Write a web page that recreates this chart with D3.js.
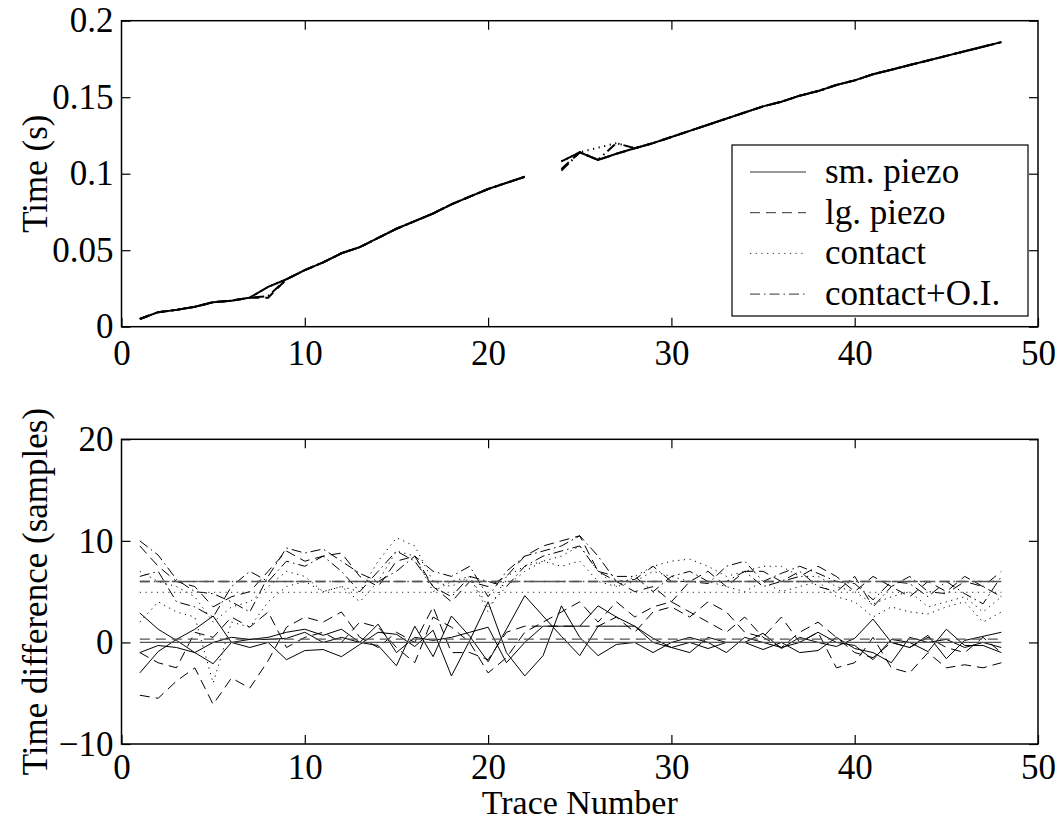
<!DOCTYPE html>
<html lang="en">
<head>
<meta charset="utf-8">
<title>Trace picks</title>
<script src="https://cdn.jsdelivr.net/npm/d3@7"></script>
<style>
  body { margin: 0; background: #fff; }
  svg { font-family: "Liberation Serif", "Times New Roman", serif; }
  text { font-family: "Liberation Serif", "Times New Roman", serif; fill: #000; }
  .axis text { font-size: 35px; font-family: "Liberation Serif", "Times New Roman", serif; }
  .axis line { stroke: #000; stroke-width: 1.2px; }
</style>
</head>
<body>
<script>
// trace numbers 1..48
var traces = [1,2,3,4,5,6,7,8,9,10,11,12,13,14,15,16,17,18,19,20,21,22,23,24,
              25,26,27,28,29,30,31,32,33,34,35,36,37,38,39,40,41,42,43,44,45,46,47,48];

// top panel: pick time (s), trace 23 missing
var topSmPiezo = [0.005,0.0095,0.011,0.013,0.016,0.017,0.019,0.026,0.031,0.037,0.042,0.048,0.052,0.058,0.064,0.069,
  0.074,0.080,0.085,0.090,0.094,0.098,null,0.108,0.114,0.109,0.113,0.1166,0.120,0.124,0.128,0.132,
  0.136,0.140,0.144,0.147,0.151,0.154,0.158,0.161,0.165,0.168,0.171,0.174,0.177,0.180,0.183,0.186];
var topLgPiezo = [0.005,0.0095,0.011,0.013,0.016,0.017,0.019,0.019,0.031,0.037,0.042,0.048,0.052,0.058,0.064,0.069,
  0.074,0.080,0.085,0.090,0.094,0.098,null,0.103,0.114,0.109,0.113,0.1166,0.120,0.124,0.128,0.132,
  0.136,0.140,0.144,0.147,0.151,0.154,0.158,0.161,0.165,0.168,0.171,0.174,0.177,0.180,0.183,0.186];
var topContact = [0.005,0.0095,0.011,0.013,0.016,0.017,0.019,0.026,0.031,0.037,0.042,0.048,0.052,0.058,0.064,0.069,
  0.074,0.080,0.085,0.090,0.094,0.098,null,0.108,0.114,0.117,0.120,0.1166,0.120,0.124,0.128,0.132,
  0.136,0.140,0.144,0.147,0.151,0.154,0.158,0.161,0.165,0.168,0.171,0.174,0.177,0.180,0.183,0.186];
var topContactOI = [0.005,0.0095,0.011,0.013,0.016,0.017,0.019,0.020,0.031,0.037,0.042,0.048,0.052,0.058,0.064,0.069,
  0.074,0.080,0.085,0.090,0.094,0.098,null,0.102,0.114,0.109,0.120,0.1166,0.120,0.124,0.128,0.132,
  0.136,0.140,0.144,0.147,0.151,0.154,0.158,0.161,0.165,0.168,0.171,0.174,0.177,0.180,0.183,0.186];

// bottom panel: time differences (samples)
var diffSolid = [
  [2.9,1.3,0.2,-1.0,-2.1,0.0,0.3,0.5,1.0,1.3,0.7,1.3,0.0,-0.3,-2.3,1.6,-1.4,2.6,0.6,-1.9,1.3,4.6,2.6,0.6,
   -1.3,1.6,1.6,1.6,0.0,-0.5,0.0,-0.6,0.0,0.0,0.9,-0.6,0.5,0.0,-0.4,0.4,2.3,0.0,-0.5,0.7,-1.6,0.2,0.6,1.0],
  [-3.0,-0.9,0.3,1.3,2.6,0.0,-0.5,0.0,-1.7,-0.8,-0.7,-1.4,-0.2,1.0,0.8,-0.4,1.2,-3.3,0.2,4.0,-1.0,-3.3,-1.3,3.6,
   0.5,-1.3,-0.2,0.0,-1.0,0.0,0.5,0.0,-1.0,0.5,0.0,-0.5,0.0,1.0,0.0,-0.3,-1.7,0.3,0.0,-0.9,1.3,-0.3,-0.3,-1.0],
  [-1.0,-0.3,-0.5,-1.0,0.0,0.5,0.3,0.3,0.4,1.0,0.0,0.5,0.0,1.8,-1.0,0.5,0.2,0.5,1.0,1.5,-2.0,0.0,1.6,1.6,
   1.6,3.6,2.5,1.6,0.4,-0.5,-1.0,0.5,0.0,0.0,-0.7,0.0,-1.0,-0.8,0.5,-0.6,-1.0,-2.0,0.5,0.0,0.3,-0.5,0.0,-0.5]
];
var diffDashed = [
  [9.5,7.5,6.0,5.5,3.5,4.5,5.0,7.0,9.0,8.0,8.5,8.8,6.5,5.5,8.0,8.5,5.5,4.0,6.0,5.5,6.5,8.5,9.5,10.0,
   10.5,7.0,6.0,5.0,5.5,4.0,6.0,7.0,5.5,7.0,7.0,6.0,6.5,7.5,6.5,5.0,6.5,5.5,4.5,6.0,5.0,6.5,5.5,7.0],
  [-5.2,-5.5,-3.8,-2.5,-6.1,-3.5,-4.5,-1.8,1.5,2.5,2.0,3.0,0.5,-0.5,1.0,0.0,3.5,-1.0,-1.0,-1.7,1.0,1.6,1.6,1.6,
   1.6,1.6,2.5,1.0,3.0,3.5,2.5,4.0,3.0,1.0,0.5,2.5,0.0,1.0,-2.5,-2.0,0.5,-2.5,-3.0,-1.0,-2.5,-2.2,-2.5,-2.0],
  [-1.0,-2.0,-2.5,1.0,0.5,2.5,1.5,3.0,-0.5,0.5,1.0,0.0,2.0,1.5,-0.5,-2.0,2.5,1.5,0.0,-3.0,-1.5,1.0,2.0,3.0,
   4.0,2.0,4.0,2.5,3.5,4.0,3.0,2.0,1.0,2.5,0.5,-0.5,1.0,2.0,0.5,-1.0,-1.5,0.0,-0.5,0.5,-0.5,-1.0,0.5,-1.0]
];
var diffDotted = [
  [7.0,6.0,5.5,4.5,2.0,3.5,4.0,5.5,7.0,6.5,5.0,5.5,5.0,8.0,10.3,9.5,6.0,5.5,6.5,3.0,6.5,7.5,8.0,7.5,
   8.0,6.0,5.5,6.5,7.5,8.0,8.2,7.5,6.5,7.0,7.5,7.5,6.5,6.5,5.5,5.0,3.8,4.5,5.0,3.5,4.0,4.5,3.0,4.5],
  [2.0,4.0,3.0,2.5,-4.0,2.0,1.5,4.0,5.5,6.0,5.0,5.5,4.0,6.0,9.0,8.5,5.0,6.0,6.5,3.5,5.5,7.0,8.0,8.5,
   9.5,7.0,5.5,6.0,7.0,6.5,6.0,6.0,5.5,5.0,6.0,5.0,5.5,6.0,4.5,4.0,2.5,3.5,3.0,2.8,3.5,4.0,2.0,3.0]
];
var diffDashDot = [
  [10.0,8.6,6.2,5.0,4.8,4.0,3.0,6.5,9.3,8.8,9.2,8.0,6.8,6.0,7.0,8.5,7.0,6.5,7.5,4.5,7.0,8.5,9.0,9.5,
   10.5,8.5,6.0,6.2,7.5,6.0,6.0,5.8,7.5,8.0,6.0,6.8,7.5,6.8,6.0,5.8,4.2,6.0,5.8,4.5,6.0,4.8,3.8,6.5],
  [6.5,7.0,4.0,3.5,2.5,5.5,7.0,6.0,8.0,7.5,8.5,7.0,5.0,7.0,9.0,8.0,5.5,4.5,6.5,6.0,5.5,7.5,8.5,9.0,
   9.5,7.0,6.5,6.5,5.0,6.5,7.0,6.0,6.0,7.0,5.5,6.0,7.0,5.5,5.0,6.5,3.5,5.5,6.5,5.0,4.8,6.0,5.5,4.5]
];
// mean levels drawn as horizontal lines
var meanStyles = ["solid", "dashed", "dashed", "dotted", "dashdot"];
var meanLevels = [0, 0.33, 6.0, 4.93, 6.0];

var legendNames = ["sm. piezo", "lg. piezo", "contact", "contact+O.I."];
var legendStyles = ["solid", "dashed", "dotted", "dashdot"];

var dashes = { solid: null, dashed: "10,6", dotted: "1.2,4.5", dashdot: "10,4,1.5,4" };

var w = 1063, h = 823;
var left = 121.5, right = 1038;

var svg = d3.select("body").append("svg")
  .attr("width", w)
  .attr("height", h);

var xScale = d3.scaleLinear().domain([0, 50]).range([left, right]);
var yTop = d3.scaleLinear().domain([0, 0.2]).range([326.7, 20.7]);
var yBot = d3.scaleLinear().domain([-10, 20]).range([744, 439.3]);

function drawAxes(yScale, yTicks, fmt, xPad) {
  var y0 = yScale.range()[0], y1 = yScale.range()[1];
  var xAxis = d3.axisBottom(xScale).tickValues([0,10,20,30,40,50]).tickSize(-9).tickSizeOuter(0).tickPadding(xPad);
  var xTopAxis = d3.axisTop(xScale).tickValues([10,20,30,40]).tickSize(-9).tickSizeOuter(0).tickFormat("");
  var yAxis = d3.axisLeft(yScale).tickValues(yTicks).tickSize(-9).tickSizeOuter(0).tickPadding(8).tickFormat(fmt);
  var yRight = d3.axisRight(yScale).tickValues(yTicks).tickSize(-9).tickSizeOuter(0).tickFormat("");

  svg.append("g").attr("class", "axis").attr("transform", "translate(0," + y0 + ")").call(xAxis);
  svg.append("g").attr("class", "axis").attr("transform", "translate(0," + y1 + ")").call(xTopAxis);
  svg.append("g").attr("class", "axis").attr("transform", "translate(" + left + ",0)").call(yAxis);
  svg.append("g").attr("class", "axis").attr("transform", "translate(" + right + ",0)").call(yRight);
  svg.selectAll(".axis .domain").remove();

  svg.append("rect")
    .attr("x", left).attr("y", y1)
    .attr("width", right - left).attr("height", y0 - y1)
    .attr("fill", "none").attr("stroke", "#000").attr("stroke-width", 1.5);
}

function drawSeries(yScale, values, style, width) {
  var line = d3.line()
    .defined(function(d) { return d != null; })
    .x(function(d, i) { return xScale(traces[i]); })
    .y(function(d) { return yScale(d); });
  svg.append("path")
    .datum(values)
    .attr("fill", "none")
    .attr("stroke", "#000")
    .attr("stroke-width", width)
    .attr("stroke-dasharray", dashes[style])
    .attr("d", line);
}

// top panel
drawAxes(yTop, [0, 0.05, 0.1, 0.15, 0.2], d3.format(""), 13);
drawSeries(yTop, topSmPiezo, "solid", 2);
drawSeries(yTop, topLgPiezo, "dashed", 2);
drawSeries(yTop, topContact, "dotted", 2);
drawSeries(yTop, topContactOI, "dashdot", 2);

// bottom panel
drawAxes(yBot, [-10, 0, 10, 20], d3.format(""), 10);
diffSolid.forEach(function(s) { drawSeries(yBot, s, "solid", 1); });
diffDashed.forEach(function(s) { drawSeries(yBot, s, "dashed", 1); });
diffDotted.forEach(function(s) { drawSeries(yBot, s, "dotted", 1); });
diffDashDot.forEach(function(s) { drawSeries(yBot, s, "dashdot", 1); });

meanLevels.forEach(function(m, i) {
  svg.append("line")
    .attr("x1", xScale(traces[0])).attr("x2", xScale(traces[traces.length - 1]))
    .attr("y1", yBot(m)).attr("y2", yBot(m))
    .attr("stroke", "#555")
    .attr("stroke-width", 1.3)
    .attr("stroke-dasharray", dashes[meanStyles[i]]);
});

// legend
var lg = svg.append("g");
lg.append("rect")
  .attr("x", 732).attr("y", 145).attr("width", 296).attr("height", 171)
  .attr("fill", "#fff").attr("stroke", "#000").attr("stroke-width", 1.2);
legendNames.forEach(function(name, i) {
  var yy = 172 + i * 40.7;
  lg.append("line")
    .attr("x1", 750).attr("x2", 806).attr("y1", yy).attr("y2", yy)
    .attr("stroke", "#333").attr("stroke-width", 1)
    .attr("stroke-dasharray", dashes[legendStyles[i]]);
  lg.append("text")
    .attr("x", 825).attr("y", yy + 11)
    .attr("font-size", "35px")
    .text(name);
});

// axis titles
svg.append("text")
  .attr("transform", "translate(47," + yTop(0.1) + ") rotate(-90)")
  .attr("text-anchor", "middle").attr("font-size", "35px")
  .text("Time (s)");
svg.append("text")
  .attr("transform", "translate(47," + yBot(5) + ") rotate(-90)")
  .attr("text-anchor", "middle").attr("font-size", "35px")
  .text("Time difference (samples)");
svg.append("text")
  .attr("x", xScale(25)).attr("y", 814)
  .attr("text-anchor", "middle").attr("font-size", "34px")
  .text("Trace Number");
</script>
</body>
</html>
